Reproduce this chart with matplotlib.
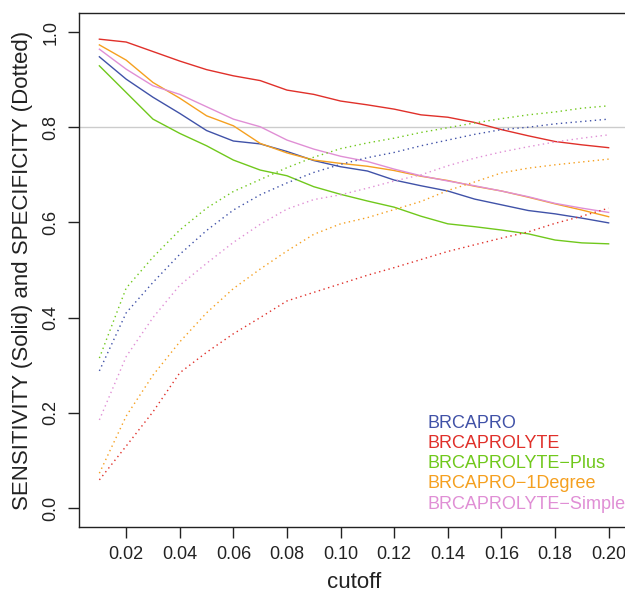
import matplotlib
matplotlib.use("Agg")
import matplotlib.pyplot as plt
import numpy as np

plt.rcParams['font.family'] = ['Liberation Sans', 'DejaVu Sans']

# cutoff grid
cutoff = np.round(np.arange(1, 21) * 0.01, 2)

models = ['BRCAPRO', 'BRCAPROLYTE', 'BRCAPROLYTE\u2212Plus',
          'BRCAPRO\u22121Degree', 'BRCAPROLYTE\u2212Simple']
colors = ['#4052A8', '#E0302A', '#70C81C', '#F5A020', '#E08FD5']

# sensitivity (solid lines)
sens_brcapro = [0.948, 0.901, 0.863, 0.829, 0.793, 0.771, 0.765, 0.749, 0.730, 0.717,
                0.708, 0.689, 0.677, 0.666, 0.649, 0.637, 0.625, 0.618, 0.609, 0.599]
sens_lyte = [0.985, 0.979, 0.959, 0.939, 0.921, 0.908, 0.898, 0.878, 0.869, 0.855,
             0.847, 0.838, 0.826, 0.821, 0.810, 0.795, 0.782, 0.770, 0.763, 0.757]
sens_plus = [0.929, 0.873, 0.817, 0.787, 0.761, 0.731, 0.710, 0.698, 0.675, 0.659,
             0.645, 0.632, 0.613, 0.597, 0.591, 0.584, 0.576, 0.563, 0.557, 0.555]
sens_1deg = [0.973, 0.941, 0.894, 0.861, 0.824, 0.803, 0.766, 0.746, 0.731, 0.724,
             0.718, 0.709, 0.697, 0.688, 0.676, 0.666, 0.653, 0.639, 0.626, 0.612]
sens_simple = [0.964, 0.922, 0.887, 0.869, 0.843, 0.817, 0.801, 0.773, 0.754, 0.739,
               0.728, 0.712, 0.698, 0.687, 0.677, 0.666, 0.654, 0.640, 0.630, 0.621]

# specificity (dotted lines)
spec_brcapro = [0.288, 0.410, 0.474, 0.533, 0.583, 0.626, 0.658, 0.683, 0.705, 0.722,
                0.736, 0.747, 0.761, 0.773, 0.785, 0.795, 0.800, 0.807, 0.812, 0.817]
spec_lyte = [0.059, 0.130, 0.202, 0.284, 0.327, 0.366, 0.400, 0.435, 0.453, 0.471,
             0.489, 0.505, 0.522, 0.539, 0.553, 0.567, 0.580, 0.598, 0.613, 0.630]
spec_plus = [0.315, 0.462, 0.527, 0.584, 0.630, 0.665, 0.690, 0.715, 0.737, 0.755,
             0.767, 0.777, 0.789, 0.799, 0.809, 0.818, 0.826, 0.832, 0.840, 0.845]
spec_1deg = [0.073, 0.193, 0.279, 0.349, 0.410, 0.461, 0.502, 0.540, 0.575, 0.597,
             0.610, 0.627, 0.644, 0.667, 0.685, 0.704, 0.714, 0.721, 0.727, 0.733]
spec_simple = [0.185, 0.318, 0.400, 0.468, 0.514, 0.558, 0.596, 0.628, 0.648, 0.658,
               0.672, 0.687, 0.700, 0.719, 0.735, 0.748, 0.759, 0.769, 0.777, 0.784]

sens = [sens_brcapro, sens_lyte, sens_plus, sens_1deg, sens_simple]
spec = [spec_brcapro, spec_lyte, spec_plus, spec_1deg, spec_simple]

fig = plt.figure(figsize=(6.25, 5.94), dpi=100)
# axes box runs past the right edge like the cropped original
ax = fig.add_axes([79 / 625, 1 - 527 / 594, 550 / 625, 514 / 594])

ax.axhline(0.8, color='#CCCCCC', lw=1, zorder=1)
for s, c in zip(sens, colors):
    ax.plot(cutoff, s, color=c, lw=1, solid_joinstyle='miter')
for s, c in zip(spec, colors):
    ax.plot(cutoff, s, color=c, lw=1, linestyle=(0, (1, 2.5)))

ax.set_xlim(0.0024, 0.2076)
ax.set_ylim(-0.04, 1.04)
ax.set_xticks(np.round(np.arange(2, 21, 2) * 0.01, 2))
ax.set_xticklabels([f'{v:.2f}' for v in np.arange(2, 21, 2) * 0.01])
ax.set_yticks([0.0, 0.2, 0.4, 0.6, 0.8, 1.0])
ax.set_yticklabels(['0.0', '0.2', '0.4', '0.6', '0.8', '1.0'], rotation=90, va='center')
ax.tick_params(length=8, width=1, labelsize=13, color='#222222', labelcolor='#222222')
ax.tick_params(axis='x', pad=6)
ax.tick_params(axis='y', pad=6)
for sp in ax.spines.values():
    sp.set_linewidth(1)
    sp.set_color('#222222')

ax.set_xlabel('cutoff', fontsize=16, color='#222222', labelpad=6)
ax.set_ylabel('SENSITIVITY (Solid) and SPECIFICITY (Dotted)', fontsize=16,
              color='#222222', labelpad=7)

# legend as coloured text
for i, (m, c) in enumerate(zip(models, colors)):
    ax.text(0.1323, 0.178 - i * 0.0425, m, color=c, fontsize=13, va='center', ha='left')

fig.savefig('out.png', dpi=100)
